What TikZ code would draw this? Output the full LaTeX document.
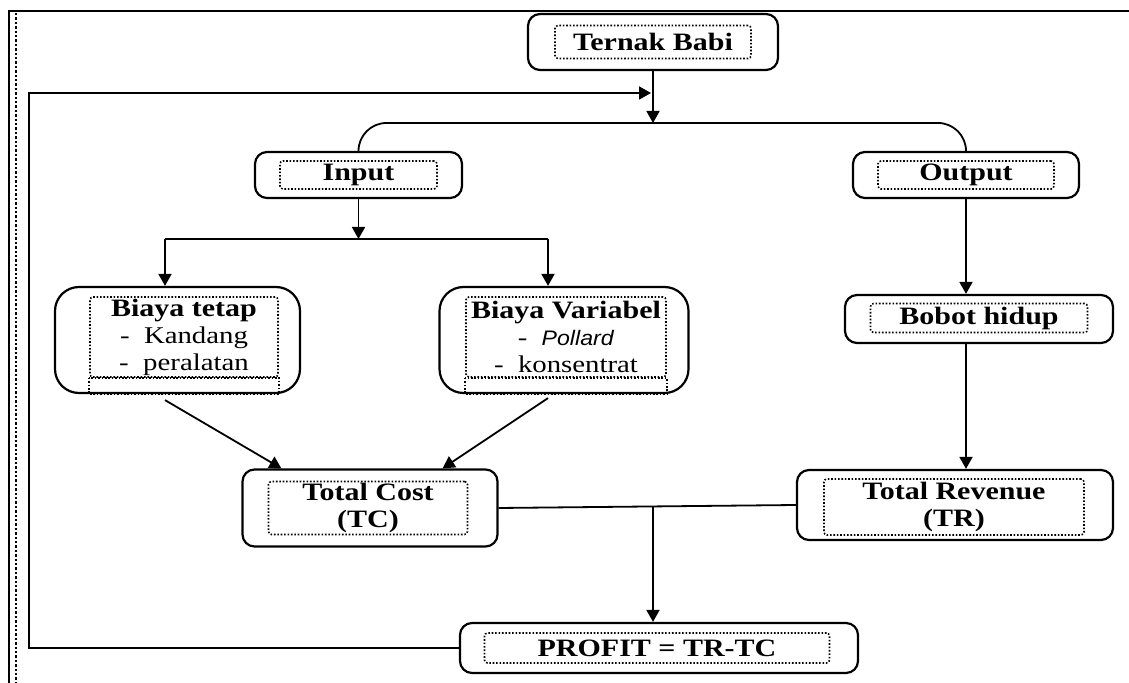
\documentclass[tikz,border=0pt]{standalone}
\usepackage{fontspec}
\setmainfont{Liberation Serif}[FakeStretch=1.2]
\setsansfont{Liberation Sans}[FakeStretch=1.1]
\usetikzlibrary{positioning, arrows.meta, calc}

\begin{document}
\begin{tikzpicture}[
      x=0.5pt, y=-0.5pt,
      box/.style={draw, rounded corners=6pt, line width=1.1pt, inner sep=0pt},
      bigbox/.style={box, rounded corners=12pt},
      dots/.style={dash pattern=on 0.8pt off 0.9pt, line width=0.8pt},
      txt/.style={draw, dots, rounded corners=1.5pt, inner sep=0.5pt, align=center, font=\fontsize{12.5}{13.5}\selectfont\bfseries},
      arrow/.style={-{Triangle[length=6pt, width=6.5pt]}, line width=0.9pt},
      link/.style={line width=0.9pt}
    ]
    \useasboundingbox (0,0) rectangle (1129,683);
    % page frame
    \draw[line width=0.8pt] (9,683) -- (9,11) -- (1129,11);
    \draw[densely dotted, line width=1.2pt] (16,13) -- (16,683);

    \node[box, minimum width=125pt, minimum height=28pt] (babi) at (653,42) {};
    \node[txt, minimum width=98pt, minimum height=16.5pt] (babitxt) at (babi) {Ternak Babi};

    \node[box, minimum width=103.5pt, minimum height=23pt] (input) at (358.5,175) {};
    \node[txt, minimum width=78.5pt, minimum height=14pt] (inputtxt) at (input) {Input};
    \node[box, minimum width=113pt, minimum height=23pt] (output) at (966,175) {};
    \node[txt, minimum width=88pt, minimum height=14pt] (outputtxt) at (output) {Output};

    \node[bigbox, minimum width=122.5pt, minimum height=53pt] (tetap) at (177.5,340) {};
    \node[txt, minimum width=94pt, minimum height=40pt] (tetaptxt) at (184,337)
      {Biaya tetap\\{\mdseries\fontsize{12}{13.5}\selectfont -\ \ Kandang}\\{\mdseries\fontsize{12}{13.5}\selectfont -\ \ peralatan}};
    \node[bigbox, minimum width=124.5pt, minimum height=53pt] (variabel) at (564,340) {};
    \node[txt, minimum width=100pt, minimum height=40pt] (variabeltxt) at (566,337)
      {Biaya Variabel\\{\mdseries\fontsize{12}{13.5}\selectfont -\ \ \textsf{\itshape\fontsize{10.5}{13.5}\selectfont Pollard}}\\{\mdseries\fontsize{12}{13.5}\selectfont -\ \ konsentrat}};
    \draw[dots] (tetaptxt.south west) rectangle (tetaptxt.east |- tetap.south);
    \draw[dots] (variabeltxt.south west) rectangle (variabeltxt.east |- variabel.south);

    \node[box, minimum width=134pt, minimum height=24pt] (bobot) at (979,319) {};
    \node[txt, minimum width=108.5pt, minimum height=14.5pt] (bobottxt) at (979,318) {Bobot hidup};

    \node[box, minimum width=127.5pt, minimum height=38.5pt] (tc) at (370,508) {};
    \node[txt, minimum width=99.5pt, minimum height=26.5pt] (tctxt) at (368,508) {Total Cost\\(TC)};
    \node[box, minimum width=158pt, minimum height=35pt] (tr) at (955,505) {};
    \node[txt, minimum width=130pt, minimum height=28pt] (trtxt) at (954,507) {Total Revenue\\(TR)};

    \node[box, minimum width=199pt, minimum height=25pt] (profit) at (659,648) {};
    \node[txt, minimum width=172.5pt, minimum height=15pt] (profittxt) at (657,648) {PROFIT = TR-TC};

    % connectors
    \coordinate (fork) at (653,123);
    \coordinate (split) at (358.5,239);
    \coordinate (jl) at (165,239);
    \coordinate (jr) at (548,239);
    \coordinate (mid) at (653,506);
    \coordinate (corner) at (29,93);
    \coordinate (back) at (651,93);

    \draw[arrow] (babi.south) -- (fork);
    \draw[link, rounded corners=14pt] (input.north) |- (fork) -| (output.north);
    \draw[arrow] (input.south) -- (split);
    \draw[link] (jl) -- (jr);
    \draw[arrow] (jl) -- (jl |- tetap.north);
    \draw[arrow] (jr) -- (jr |- variabel.north);
    \draw[arrow] ([yshift=-3pt]jl |- tetap.south) -- ([xshift=20pt]tc.north west);
    \draw[arrow] ([yshift=-2pt]jr |- variabel.south) -- ([xshift=-28pt]tc.north east);
    \draw[arrow] (output.south) -- (output.south |- bobot.north);
    \draw[arrow] (output.south |- bobot.south) -- (output.south |- tr.north);
    \draw[link] (tc.east) -- (tr.west);
    \draw[arrow] (mid) -- (mid |- profit.north);
    \draw[arrow] (profit.west) -| (corner) -- (back);
  \end{tikzpicture}
\end{document}
